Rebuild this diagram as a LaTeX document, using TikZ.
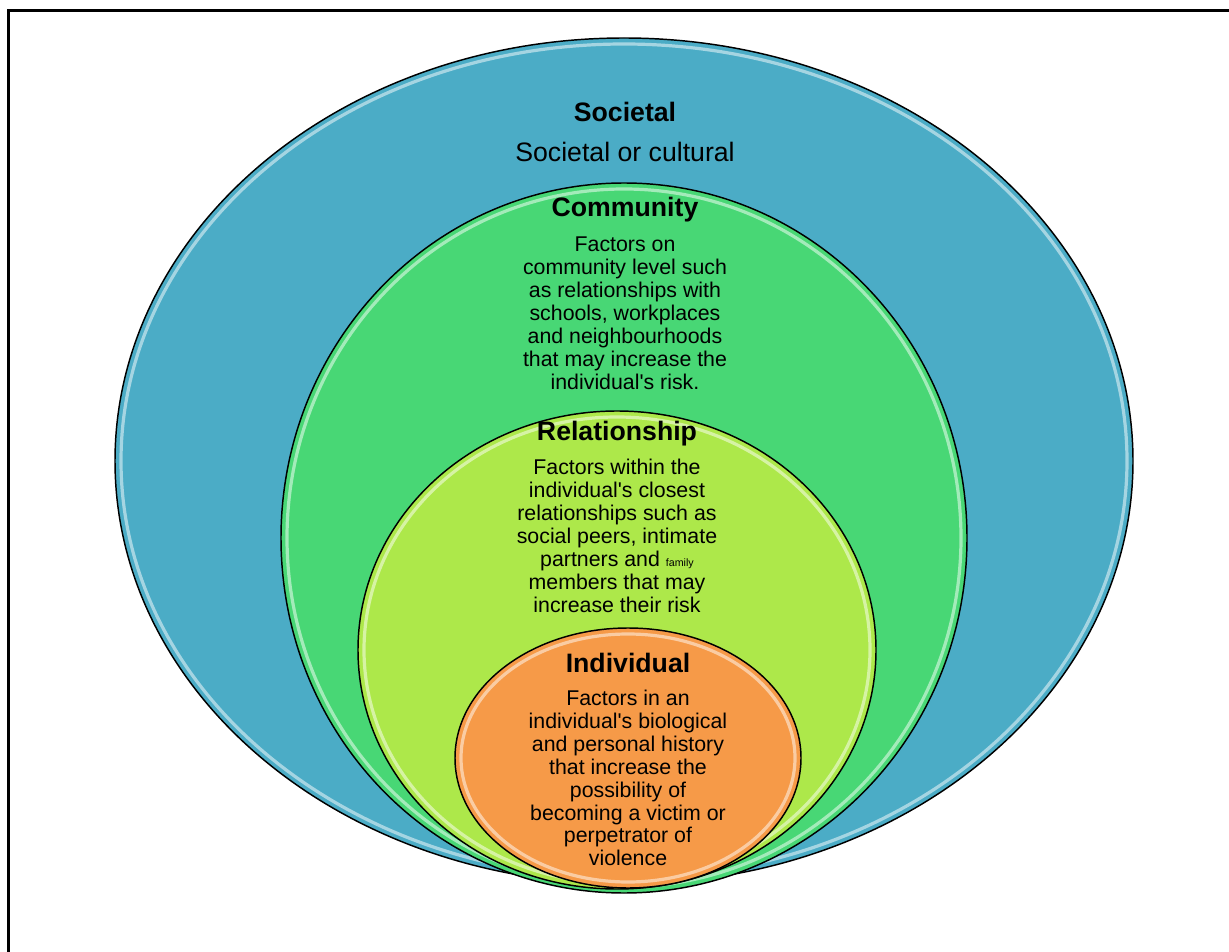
\documentclass[tikz,border=0pt]{standalone}
\usepackage{fontspec}
\setmainfont{Liberation Sans}
\usetikzlibrary{positioning}

% Couleurs des niveaux
\definecolor{bleuSoc}{HTML}{4BACC6}
\definecolor{vertCom}{HTML}{48D775}
\definecolor{vertRel}{HTML}{ADE84A}
\definecolor{orangeInd}{HTML}{F69A48}

\tikzset{
  niveau/.style={draw=black, line width=1.1pt},
  reflet/.style={draw=white, line width=2.4pt, opacity=0.5},
  titre/.style={font=\fontsize{20}{22}\selectfont\bfseries, inner sep=0pt},
  corps/.style={font=\fontsize{16}{17.2}\selectfont, align=center, inner sep=0pt},
}

\begin{document}
\begin{tikzpicture}[x=0.75pt, y=-0.75pt]
\useasboundingbox (0,0) rectangle (1229,952);

% Cadre
\draw[line width=2.25pt] (8,960) -- (8,11) -- (1240,11);

% Ellipses emboitees (centre x, centre y, rayons, couleur)
\foreach \cx/\cy/\rx/\ry/\coul in {624/461/509/423/bleuSoc,
                                   624/538/343/355/vertCom,
                                   617/650/259/239/vertRel,
                                   628/758/173/130/orangeInd}{
  \filldraw[fill=\coul, niveau] (\cx,\cy) ellipse [x radius=\rx, y radius=\ry];
  \draw[reflet] (\cx,\cy) ellipse [x radius=\rx-6, y radius=\ry-6];
}

% Textes
\node[titre] (soc) at (625,112) {Societal};
\node[font=\fontsize{20}{22}\selectfont, inner sep=0pt] (socTxt) at (625,152) {Societal or cultural};

\node[titre] (com) at (625,210) {Community};
\node[corps] (comTxt) at (625,313) {Factors on\\community level such\\as relationships with\\schools, workplaces\\and neighbourhoods\\that may increase the\\individual\textquotesingle s risk.};

\node[titre] (rel) at (617,434) {Relationship};
\node[corps] (relTxt) at (617,536) {Factors within the\\individual\textquotesingle s closest\\relationships such as\\social peers, intimate\\partners and {\fontsize{8}{9}\selectfont family}\\members that may\\increase their risk};

\node[titre] (ind) at (628,663) {Individual};
\node[corps] (indTxt) at (628,778) {Factors in an\\individual\textquotesingle s biological\\and personal history\\that increase the\\possibility of\\becoming a victim or\\perpetrator of\\violence};

\end{tikzpicture}
\end{document}
